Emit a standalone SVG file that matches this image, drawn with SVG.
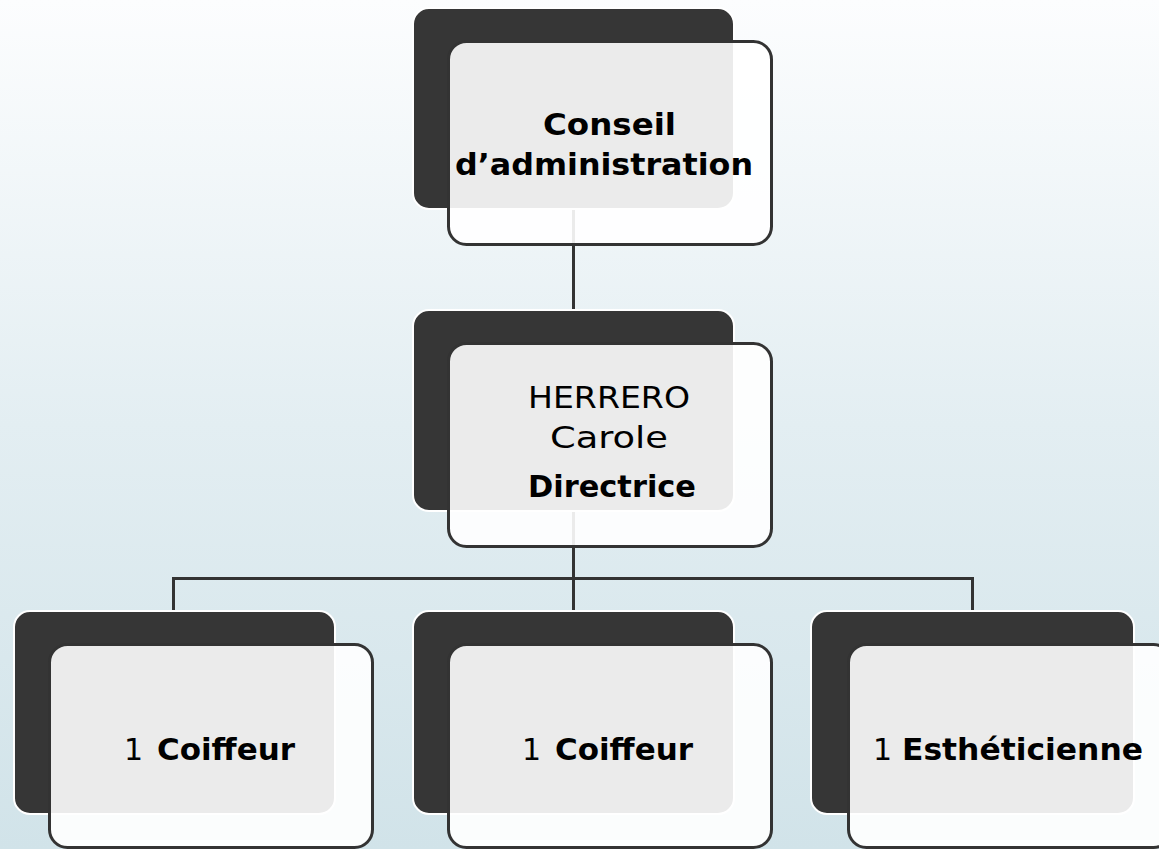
<svg xmlns="http://www.w3.org/2000/svg" width="1159" height="849" viewBox="0 0 1159 849">
  <defs>
    <linearGradient id="bg" x1="0" y1="0" x2="0" y2="1">
      <stop offset="0" stop-color="#fcfdfe"/>
      <stop offset="0.5" stop-color="#e3eef2"/>
      <stop offset="1" stop-color="#d1e3e9"/>
    </linearGradient>
  </defs>
  <style>
    .back { fill: #363636; stroke: #ffffff; stroke-width: 2; }
    .front { fill: #ffffff; fill-opacity: 0.9; stroke: #333333; stroke-width: 3; }
    .conn { fill: none; stroke: #333333; stroke-width: 3; stroke-linejoin: miter; }
    .t { font-family: "DejaVu Sans", "Liberation Sans", sans-serif; font-size: 30px; fill: #000000; }
    .b { font-weight: bold; }
    .r { font-weight: normal; }
  </style>
  <rect x="0" y="0" width="1159" height="849" fill="url(#bg)"/>

  <g id="connectors">
    <path class="conn" d="M573.5 209 V309"/>
    <path class="conn" d="M573.5 512 V611"/>
    <path class="conn" d="M173.5 611 V578.5 H972.5 V611"/>
  </g>

  <g id="node-conseil">
    <rect class="back" x="413" y="8" width="321" height="201" rx="16"/>
    <rect class="front" x="448.5" y="41.5" width="323" height="203" rx="18"/>
    <text class="t b" x="543" y="135" textLength="133" lengthAdjust="spacingAndGlyphs">Conseil</text>
    <text class="t b" x="455" y="175" textLength="298" lengthAdjust="spacingAndGlyphs">d’administration</text>
  </g>

  <g id="node-directrice">
    <rect class="back" x="413" y="310" width="321" height="201" rx="16"/>
    <rect class="front" x="448.5" y="343.5" width="323" height="203" rx="18"/>
    <text class="t r" x="528" y="408" font-size="31" textLength="162" lengthAdjust="spacingAndGlyphs">HERRERO</text>
    <text class="t r" x="550" y="448" font-size="31" textLength="118" lengthAdjust="spacingAndGlyphs">Carole</text>
    <text class="t b" x="528" y="497" textLength="168" lengthAdjust="spacingAndGlyphs">Directrice</text>
  </g>

  <g id="node-coiffeur-1">
    <rect class="back" x="14" y="611" width="321" height="203" rx="16"/>
    <rect class="front" x="49.5" y="644.5" width="323" height="203" rx="18"/>
    <text class="t r" x="124" y="760">1</text>
    <text class="t b" x="157" y="760" textLength="138" lengthAdjust="spacingAndGlyphs">Coiffeur</text>
  </g>

  <g id="node-coiffeur-2">
    <rect class="back" x="413" y="611" width="321" height="203" rx="16"/>
    <rect class="front" x="448.5" y="644.5" width="323" height="203" rx="18"/>
    <text class="t r" x="522" y="760">1</text>
    <text class="t b" x="555" y="760" textLength="138" lengthAdjust="spacingAndGlyphs">Coiffeur</text>
  </g>

  <g id="node-estheticienne">
    <rect class="back" x="811" y="611" width="323" height="203" rx="16"/>
    <rect class="front" x="848.5" y="644.5" width="323" height="203" rx="18"/>
    <text class="t r" x="873" y="760">1</text>
    <text class="t b" x="902" y="760" textLength="241" lengthAdjust="spacingAndGlyphs">Esthéticienne</text>
  </g>
</svg>
